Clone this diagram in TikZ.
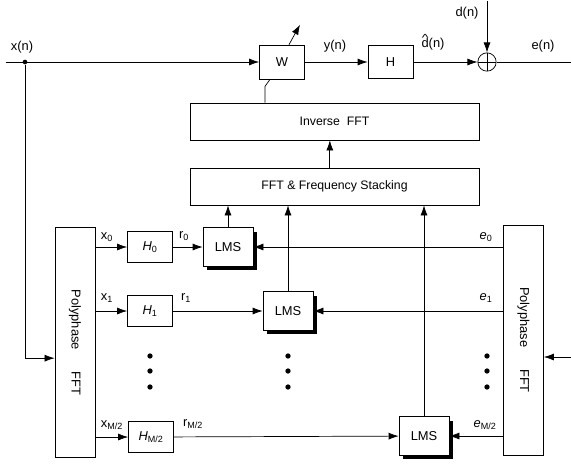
\documentclass[tikz,border=0pt]{standalone}
\usepackage{fontspec}
\setmainfont{Liberation Sans}
\usetikzlibrary{arrows.meta,shadows}
\newcommand{\dhat}{\ooalign{d\cr\hidewidth\raisebox{0.46em}{\scalebox{1.1}[0.8]{\char"005E}}\hidewidth\cr}}

\begin{document}
\begin{tikzpicture}[x=0.03cm, y=-0.03cm, >={Latex[length=3mm,width=2.1mm]}, semithick,
  font=\fontsize{11}{13}\selectfont,
  blk/.style={draw, inner sep=0pt, minimum width=1.35cm, minimum height=0.93cm},
  lms/.style={draw, fill=white, inner sep=0pt, minimum width=1.5cm, minimum height=1.15cm,
    drop shadow={shadow xshift=0.13cm, shadow yshift=-0.12cm, fill=black, opacity=1}},
  wide/.style={draw, minimum width=8.67cm, minimum height=1.11cm, font=\fontsize{10.5}{12}\selectfont},
  poly/.style={draw, minimum width=1.2cm, minimum height=6.9cm},
  sumnode/.style={circle, draw, minimum size=0.55cm, inner sep=0pt,
    path picture={\draw (path picture bounding box.north) -- (path picture bounding box.south)
      (path picture bounding box.west) -- (path picture bounding box.east);}},
  jdot/.style={circle, fill, inner sep=0pt, minimum size=4pt},
  vdot/.style={circle, fill, inner sep=0pt, minimum size=4.5pt}]
  \useasboundingbox (0,0) rectangle (571,463);
  % top path: x(n) -> W -> H -> sum
  \node[blk, minimum height=1.02cm] (W) at (282,62) {W};
  \node[blk, minimum height=1.0cm] (H) at (390.5,62) {H};
  \node[sumnode] (s) at (487,62) {};
  \coordinate (xin) at (6,62);
  \node[jdot] (jn) at (25,62) {};
  \coordinate (din) at (487,1);
  \coordinate (eout) at (571,62);
  \draw[->] (xin) -- (W);
  \draw[->] (W) -- (H);
  \draw[->] (H) -- (s);
  \draw[->] (din) -- (s);
  \draw (s) -- (eout);
  \draw[->] ([xshift=0.21cm]W.north) -- ++(11,-20);
  \node (xnl) at (22,47) {x(n)};
  \node (ynl) at (335,46) {y(n)};
  \node (dhl) at (433,44) {\dhat(n)};
  \node (dnl) at (467,13) {d(n)};
  \node (enl) at (543,46) {e(n)};
  % FFT blocks
  \node[wide] (ifft) at (334.5,121.5) {Inverse\ \ FFT};
  \node[wide] (fft) at (334.5,186.5) {FFT \& Frequency Stacking};
  \draw ([xshift=-0.36cm]W.south) -- ++(-5,7) coordinate (wk) -- (wk |- ifft.north);
  \draw[->] ([xshift=-0.14cm]fft.north) -- ([xshift=-0.14cm]ifft.south);
  % polyphase filter banks
  \node[poly] (ppl) at (75,342.5) {};
  \node[rotate=-90] (pplt) at (ppl) {Polyphase\hspace{1.7em}FFT};
  \node[poly] (ppr) at (523.5,340) {};
  \node[rotate=-90] (pprt) at (ppr) {Polyphase\hspace{1.7em}FFT};
  \draw[->] (jn) |- ([yshift=-0.47cm]ppl.west);
  \coordinate (ein) at (571,357);
  \draw[->] (ein) -- (ein -| ppr.east);
  % sub-band filters and LMS blocks
  \node[blk] (H0) at (150,247) {\textit{H}\textsubscript{0}};
  \node[blk] (H1) at (150,311) {\textit{H}\textsubscript{1}};
  \node[blk] (H2) at (151,437) {\textit{H}\textsubscript{M/2}};
  \node[lms] (L0) at (228,247) {LMS};
  \node[lms] (L1) at (288,311) {LMS};
  \node[lms] (L2) at (424,436) {LMS};
  \draw[->] (ppl.east |- H0) -- (H0);
  \draw[->] (ppl.east |- H1) -- (H1);
  \draw[->] (ppl.east |- H2) -- (H2);
  \draw[->] (H0) -- (L0);
  \draw[->] (H1) -- (L1);
  \draw[->] (H2) -- (L2);
  \draw[->] (ppr.west |- L0) -- (L0);
  \draw[->] (ppr.west |- L1) -- (L1);
  \draw[->] (ppr.west |- L2) -- (L2);
  \draw[->] (L0) -- (L0 |- fft.south);
  \draw[->] (L1) -- (L1 |- fft.south);
  \draw[->] (L2) -- (L2 |- fft.south);
  \node (x0l) at (107,237) {x\textsubscript{0}};
  \node (x1l) at (107,298) {x\textsubscript{1}};
  \node (x2l) at (112,425) {x\textsubscript{M/2}};
  \node (r0l) at (184,236) {r\textsubscript{0}};
  \node (r1l) at (186,298) {r\textsubscript{1}};
  \node (r2l) at (193,424) {r\textsubscript{M/2}};
  \node (e0l) at (486,237) {\textit{e}\textsubscript{0}};
  \node (e1l) at (486,298) {\textit{e}\textsubscript{1}};
  \node (e2l) at (485,425) {\textit{e}\textsubscript{M/2}};
  % ellipsis dots
  \foreach \cx in {150,288,487}
    \foreach \cy in {356,371,387}
      \node[vdot] at (\cx,\cy) {};
\end{tikzpicture}
\end{document}
